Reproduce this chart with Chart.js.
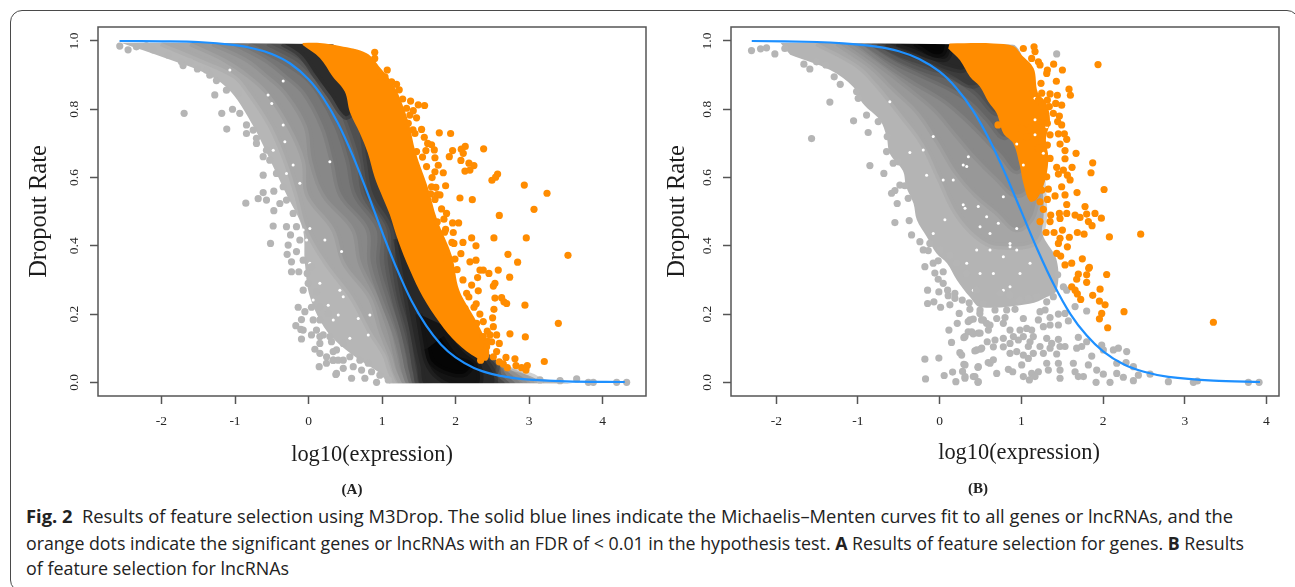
<!DOCTYPE html>
<html>
<head>
<meta charset="utf-8">
<title>Fig. 2</title>
<script src="https://cdn.jsdelivr.net/npm/chart.js@4"></script>
<style>
  html, body { margin: 0; padding: 0; background: #fff; }
  body { width: 1295px; height: 587px; position: relative; overflow: hidden; }
  #frame { position: absolute; left: 10px; top: 10px; width: 1287px; height: 580px; border: 1.5px solid #4a4a4a; border-radius: 12px; }
  canvas { position: absolute; top: 0; filter: blur(0.35px); }
  #chartA { left: 0; }
  #chartB { left: 650px; }
  .panel { position: absolute; font: bold 15px "Liberation Serif", serif; color: #222; transform: translate(-50%, -50%); }
  .line { position: absolute; left: 26px; font: 18px/24px "Open Sans", sans-serif; color: #222; white-space: nowrap; transform-origin: left center; }
</style>
</head>
<body>
<div id="frame"></div>
<canvas id="chartA" width="650" height="480"></canvas>
<canvas id="chartB" width="645" height="480"></canvas>
<div class="panel" style="left:352px;top:489px">(A)</div>
<div class="panel" style="left:978px;top:488px">(B)</div>
<div class="line" data-w="1207" style="top:504px"><b>Fig. 2</b>&nbsp; Results of feature selection using M3Drop. The solid blue lines indicate the Michaelis–Menten curves fit to all genes or lncRNAs, and the</div>
<div class="line" data-w="1218" style="top:531px">orange dots indicate the significant genes or lncRNAs with an FDR of &lt; 0.01 in the hypothesis test. <b>A</b> Results of feature selection for genes. <b>B</b> Results</div>
<div class="line" data-w="263" style="top:556px">of feature selection for lncRNAs</div>
<script>
// Ejes
const xTicks = [-2, -1, 0, 1, 2, 3, 4];
const yTicks = [0, 0.2, 0.4, 0.6, 0.8, 1.0];

// Curvas Michaelis-Menten
const curveA = [[-2.57,1.0],[-2,.999],[-1.5,.997],[-1,.988],[-.75,.978],[-.5,.962],[-.25,.934],[0,.888],[.2,.833],[.4,.759],[.6,.665],[.8,.556],[1,.441],[1.2,.333],[1.4,.239],[1.6,.166],[1.8,.111],[2,.073],[2.25,.042],[2.5,.024],[2.75,.014],[3,.008],[3.5,.003],[4.3,.001]];
const curveB = [[-2.3,1.0],[-1.5,.997],[-1.18,.993],[-.8,.984],[-.5,.97],[-.25,.947],[0,.91],[.2,.863],[.4,.799],[.6,.715],[.8,.613],[1,.5],[1.2,.387],[1.4,.285],[1.6,.2],[1.8,.137],[2,.091],[2.25,.053],[2.5,.031],[2.8,.016],[3.35,.005],[3.92,.001]];

// Zona naranja compacta
const orangeBandA = [[-.08,.988],[.154,.95],[.33,.895],[.494,.851],[.562,.792],[.698,.73],[.806,.672],[.9,.6],[1.01,.541],[1.106,.491],[1.215,.417],[1.378,.329],[1.555,.25],[1.786,.174],[2.018,.115],[2.29,.071],[2.43,.065],[2.45,.1],[2.28,.18],[2.05,.27],[1.95,.37],[1.75,.476],[1.62,.573],[1.46,.671],[1.35,.769],[1.17,.866],[.98,.92],[.79,.964],[.426,.985],[.154,.994],[-.08,.994]];
const orangeBandB = [[.105,.978],[.247,.944],[.371,.895],[.494,.866],[.596,.822],[.698,.788],[.779,.73],[.902,.7],[.983,.632],[1.024,.583],[1.106,.53],[1.2,.54],[1.3,.6],[1.33,.66],[1.3,.71],[1.35,.77],[1.3,.82],[1.2,.85],[1.15,.92],[1,.96],[.9,.985],[.657,.993],[.12,.993]];
const orangeGapsB = [[1.106,.749],[1.167,.725],[.943,.698],[1.024,.637],[1.167,.832],[1.31,.749],[1.167,.769],[1.269,.671]];

// Puntos naranjas sueltos
const orangeDotsA = [[.9,.967],[.9,.949],[1.07,.915],[1.04,.895],[.97,.895],[1.197,.873],[1.233,.857],[1.388,.824],[1.578,.811],[1.492,.813],[1.333,.803],[1.424,.796],[1.469,.775],[1.379,.783],[1.356,.759],[1.537,.741],[1.447,.729],[1.574,.718],[1.778,.731],[1.932,.729],[1.673,.696],[1.71,.681],[1.596,.679],[1.469,.676],[1.719,.658],[1.959,.679],[1.914,.661],[2.077,.683],[2.131,.691],[2.104,.671],[2.381,.684],[2.072,.65],[2.181,.642],[2.249,.635],[2.127,.619],[2.195,.622],[1.764,.636],[1.605,.632],[1.719,.617],[1.832,.614],[2.571,.61],[2.544,.601],[2.494,.592],[2.934,.578],[3.243,.554],[1.864,.576],[1.673,.573],[1.732,.571],[1.66,.552],[1.787,.549],[1.719,.536],[2.059,.54],[2.227,.535],[3.066,.507],[2.594,.489],[1.809,.508],[1.877,.495],[1.841,.478],[1.959,.467],[2.041,.467],[1.75,.47],[1.864,.448],[1.968,.439],[2.218,.423],[2.521,.423],[2.961,.423],[3.528,.372],[2.277,.4],[1.977,.407],[2.072,.377],[2.712,.375],[2.843,.352],[2.277,.358],[2.195,.353],[1.991,.361],[1.877,.363],[2.331,.329],[2.376,.329],[2.453,.319],[2.58,.329],[2.299,.307],[2.735,.308],[2.535,.29],[2.513,.282],[2.218,.285],[2.308,.268],[2.15,.261],[2.535,.247],[2.626,.248],[2.657,.236],[2.694,.231],[2.943,.226],[2.25,.22],[2.127,.217],[2.521,.214],[2.503,.189],[2.376,.178],[2.286,.173],[2.513,.163],[3.397,.173],[2.739,.142],[2.948,.133],[2.558,.139],[2.467,.139],[2.376,.134],[2.594,.114],[2.49,.119],[2.422,.104],[2.558,.09],[2.513,.075],[2.399,.09],[2.685,.073],[2.807,.069],[3.206,.061],[2.648,.054],[2.703,.043],[2.821,.049],[2.898,.043],[2.975,.049],[2.957,.036],[2.594,.06],[2.34,.065],[1.62,.7],[1.55,.66],[1.68,.6],[1.75,.55],[1.85,.44],[1.95,.41],[2.02,.33],[2.1,.3],[2.18,.25],[2.28,.23],[2.33,.2],[2.43,.15],[2.44,.12],[2.1,.41],[1.13,.88],[1.28,.83],[1.42,.74]];
const orangeDotsB = [[1.155,.983],[1.167,.969],[1.024,.978],[1.126,.949],[1.208,.939],[1.228,.93],[1.318,.915],[1.395,.932],[1.502,.915],[1.938,.931],[1.31,.905],[1.428,.882],[1.24,.876],[1.583,.859],[1.6,.841],[1.44,.841],[1.351,.845],[1.249,.847],[1.138,.847],[1.208,.827],[1.318,.827],[1.42,.817],[1.493,.812],[1.249,.81],[1.342,.808],[1.391,.788],[1.465,.78],[1.269,.778],[1.318,.759],[1.228,.744],[1.493,.754],[1.444,.764],[1.106,.744],[1.004,.744],[.714,.754],[1.065,.72],[1.351,.725],[1.453,.728],[1.526,.728],[1.555,.712],[1.249,.72],[1.473,.698],[1.318,.695],[1.208,.686],[1.534,.679],[1.669,.671],[1.351,.656],[1.534,.655],[1.873,.643],[1.432,.63],[1.62,.63],[1.852,.614],[1.514,.622],[1.563,.607],[1.453,.61],[1.31,.602],[1.493,.573],[1.596,.593],[2.012,.565],[1.249,.563],[1.33,.566],[1.681,.556],[1.412,.546],[1.534,.549],[1.318,.536],[1.228,.529],[1.555,.521],[1.779,.515],[1.269,.507],[1.799,.493],[1.901,.495],[1.979,.481],[1.465,.495],[1.555,.495],[1.657,.49],[1.718,.483],[1.359,.49],[1.473,.48],[1.82,.471],[1.865,.459],[1.228,.471],[1.351,.471],[1.302,.439],[1.4,.439],[1.502,.446],[1.685,.439],[1.767,.434],[2.077,.426],[2.46,.434],[1.473,.422],[1.587,.425],[1.453,.407],[1.563,.397],[1.432,.378],[1.481,.37],[1.746,.362],[1.616,.349],[1.534,.344],[1.832,.337],[1.697,.317],[1.677,.302],[1.799,.315],[1.824,.334],[1.799,.293],[2.044,.316],[1.616,.28],[1.657,.27],[1.685,.259],[1.726,.243],[1.873,.255],[1.963,.273],[1.955,.238],[2.024,.227],[2.256,.207],[1.983,.202],[1.955,.186],[2.056,.16],[3.35,.176]];

// Puntos grises sueltos
const grayDotsA = [[.608,.967],[-2.567,.985],[-2.454,.974],[-2.341,.983],[-2.205,.986],[-2.114,.974],[-1.91,.959],[-1.728,.939],[-1.706,.928],[-1.615,.939],[-1.511,.918],[-1.388,.915],[-1.343,.9],[-1.252,.884],[-1.116,.856],[-1.275,.842],[-.957,.847],[-1.692,.788],[-1.18,.788],[-1.034,.8],[-.935,.788],[-1.112,.742],[-.844,.729],[-.844,.754],[-.708,.715],[-.572,.68],[-.617,.607],[-.853,.525],[-.685,.538],[-.617,.556],[-.572,.534],[-.472,.56],[-.39,.524],[-.472,.503],[-.481,.458],[-.517,.407],[-.3,.456],[-.277,.402],[-.245,.432],[-.291,.375],[-.232,.353],[-.232,.324],[-.132,.324],[-.018,.319],[-.073,.27],[-.141,.22],[-.05,.207],[.04,.22],[-.096,.184],[-.173,.166],[-.105,.155],[-.096,.127],[.063,.183],[.086,.097],[.145,.046],[.244,.056],[.371,.023],[.335,.065],[.154,.134],[.38,.026],[.472,.041],[.585,.012],[.766,.012],[.925,0],[1.084,.007],[3.646,.01],[3.805,0],[3.873,0],[4.19,0],[4.326,0],[3.42,.005],[3.147,.007],[-.073,.153],[.04,.139],[.154,.114],[.29,.134],[.38,.095],[.472,.114],[.336,.065],[.472,.065],[.608,.046],[.721,.036],[.857,.031],[.97,.021],[.562,.075],[.245,.075],[.698,.065],[.812,.056],[.154,.085],[-.527,.651],[-.436,.612],[-.345,.573],[-.3,.534],[-.209,.495],[-.164,.456],[-.118,.417],[-.708,.7],[-.617,.661],[-.753,.739],[-.164,.383],[-.073,.358],[.04,.339],[-.005,.29],[.108,.265],[.154,.221],[.267,.202],[.154,.183],[.108,.153],[.199,.139],[.312,.119],[.335,.09],[.403,.065]];
const grayDotsB = [[1.432,.962],[-2.303,.972],[-2.192,.977],[-2.119,.98],[-2.017,.962],[-1.895,.978],[-1.662,.932],[-1.589,.918],[-1.507,.939],[-1.393,.93],[-1.291,.895],[-1.217,.873],[-1.344,.821],[-.997,.832],[-1.017,.852],[-1.054,.766],[-.875,.732],[-.895,.783],[-1.568,.714],[-.854,.635],[-.683,.612],[-.642,.72],[-.589,.554],[-.548,.562],[-.52,.524],[-.548,.468],[-.385,.539],[-.373,.474],[-.344,.432],[-.242,.412],[-.201,.388],[-.181,.339],[-.487,.578],[-.426,.576],[-.569,.642],[-.508,.646],[-.65,.676],[-.752,.764],[-.14,.386],[-.079,.349],[-.018,.356],[-.059,.32],[.043,.324],[-.018,.302],[.043,.29],[-.148,.27],[-.01,.265],[.097,.27],[.104,.254],[.186,.261],[.186,.246],[.276,.241],[-.148,.231],[-.071,.236],[.011,.22],[.125,.227],[.361,.233],[.37,.214],[.239,.202],[.215,.173],[.349,.178],[.41,.185],[.513,.183],[.113,.153],[.349,.148],[.41,.142],[.472,.144],[.296,.131],[.145,.117],[.582,.119],[.247,.087],[.431,.092],[.5,.097],[-.181,.068],[-.01,.071],[.296,.053],[.468,.044],[.594,.058],[.158,.03],[.055,.02],[.28,.032],[.309,.012],[.198,.002],[-.173,.01],[.431,.017],[.468,0],[.412,.017],[.473,.002],[.31,.017],[.31,.051],[.473,.046],[.698,.026],[.841,.038],[.894,.031],[1.024,.017],[1.098,.007],[1.126,.026],[1.208,.031],[1.167,.017],[1.004,.051],[.616,.056],[.657,.066],[1.085,.07],[1.31,.056],[1.33,.036],[1.453,.056],[1.473,.036],[1.473,.012],[1.657,.031],[1.697,.017],[1.759,.017],[1.636,.056],[1.861,.077],[1.82,.051],[1.922,.036],[2.003,.024],[1.914,0],[2.085,0],[2.167,.026],[2.248,.015],[2.371,.005],[2.432,.021],[2.575,.024],[2.799,.002],[3.105,0],[3.154,.004],[3.778,0],[3.909,0],[2.187,.1],[2.289,.09],[2.167,.056],[2.281,.058],[2.371,.046],[2.126,.095],[1.983,.109],[2.003,.095],[1.697,.132],[1.799,.119],[1.677,.1],[1.738,.105],[1.473,.105],[1.534,.105],[1.351,.1],[1.371,.114],[1.453,.126],[1.31,.129],[1.228,.105],[1.269,.085],[1.432,.083],[1.085,.105],[1.146,.085],[1.024,.08],[.943,.09],[.861,.085],[.779,.104],[.861,.114],[.963,.124],[1.024,.134],[1.106,.119],[1.146,.134],[.983,.153],[1.065,.158],[1.126,.153],[.902,.134],[.779,.129],[.677,.124],[.657,.104],[.453,.095],[.514,.1],[.269,.08],[.31,.134],[.392,.148],[.494,.144],[.596,.153],[.371,.183],[.535,.183],[.616,.168],[.698,.187],[.779,.173],[.861,.153],[.8,.19],[1.024,.187],[.922,.214],[.82,.212],[.677,.212],[1.228,.207],[1.29,.212],[1.208,.183],[1.351,.19],[1.453,.2],[1.534,.202],[1.269,.163],[1.351,.168],[1.453,.168],[1.575,.18],[1.657,.222],[1.799,.209],[1.514,.28],[1.555,.27],[1.444,.315],[1.391,.251],[1.31,.236],[1.187,.251],[1.085,.246],[.975,.241],[.861,.256],[.739,.261],[.494,.212],[-.12,.407],[.003,.388],[.125,.373],[.207,.349],[.329,.319],[.451,.27],[.533,.231],[.492,.202],[.574,.173]];

// Huecos blancos dentro de la nube
const gapsA = [[.018,.451],[-.073,.446],[-.027,.417],[.449,.383],[.222,.417],[-.073,.329],[.018,.349],[.154,.29],[.426,.27],[.404,.197],[.676,.187],[.562,.129],[.834,.197],[.653,.065],[.812,.139],[-.073,.275],[.063,.241],[.268,.226],[.472,.251],[.336,.183],[.154,.153],[-.55,.842],[-.345,.754],[-.322,.705],[.29,.646],[-.48,.68],[-.3,.612],[-.118,.583],[-.5,.817],[-1.07,.915],[-.345,.883],[-.21,.637]];
const gapsB = [[.861,.407],[.779,.368],[.943,.388],[.657,.319],[.494,.319],[.861,.28],[.331,.349],[.983,.319],[.412,.27],[.616,.388],[.453,.388],[1.106,.349],[.779,.27],[.31,.51],[.575,.485],[.718,.466],[.861,.397],[.331,.632],[.494,.456],[.351,.661],[.779,.544],[.616,.436],[.943,.451],[.288,.52],[.064,.476],[-.079,.436],[.288,.637],[.043,.593],[.166,.593],[-.365,.673],[-.201,.681],[-.079,.72],[-.61,.822],[.472,.515],[-.16,.607]];

// Bandas de densidad, panel A: borde izquierdo por filas de dropout
const bandRowsA = [.995,.95,.9,.85,.75,.65,.55,.45,.35,.25,.15,.08,.03,-.008];
const bandEdgesA = [
  [-2.55,-1.95,-1.35,-1.05,-.75,-.52,-.3,-.08,-.05,.02,.25,.6,.95,1.15],
  [-2,-1.5,-1,-.8,-.5,-.3,-.15,-.02,.25,.6,.85,1.05,1.13,1.25],
  [-1.6,-1.15,-.8,-.55,-.25,-.05,0,.35,.5,.85,1,1.13,1.2,1.33],
  [-1.3,-.85,-.55,-.3,-.02,.05,.22,.62,.72,.95,1.12,1.2,1.26,1.38],
  [-1,-.6,-.3,-.05,.2,.335,.45,.82,.85,1,1.18,1.27,1.32,1.42],
  [-.8,-.4,-.05,.15,.4,.55,.65,.97,.97,1.1,1.25,1.32,1.37,1.46],
  [-.55,-.15,.1,.35,.55,.7,.77,1.06,1.08,1.17,1.3,1.38,1.42,1.5],
  [-.25,.05,.3,.5,.72,.79,.88,1.15,1.18,1.25,1.38,1.43,1.47,1.53]
];
const bandEndsA = [3.6,3.15,3.02,2.92,2.82,2.75,2.68,2.62];
const bandTailA = [[2.35,.09],[1.9,.25],[1.45,.46],[1,.75],[.5,.95],[.2,.995]];
const bandColorsA = ['#b6b6b6','#a8a8a8','#989898','#888888','#767676','#646464','#505050','#3c3c3c'];
const darkTopA = [[-.35,.995],[-.1,.96],[.1,.9],[.3,.84],[.5,.78],[.6,.8],[.5,.88],[.2,.95],[0,.995]];
const darkLowA = [[1.2,.42],[1.3,.3],[1.38,.2],[1.45,.12],[1.52,.05],[1.6,-.008],[2.5,-.008],[2.5,.03],[2.3,.09],[1.9,.2],[1.5,.35],[1.3,.45]];
const darkerLowA = [[1.5,.2],[1.56,.12],[1.62,.06],[1.75,.02],[2,-.008],[2.3,-.008],[2.3,.05],[2.1,.09],[1.8,.17]];
const blackLowA = [[1.62,.1],[1.68,.06],[1.85,.035],[2.1,.025],[2.2,.05],[2,.07],[1.8,.13]];

// Bandas de densidad, panel B: poligonos de fuera hacia dentro
const bandB0 = [[-1.95,.995],[.85,.995],[1.1,.85],[1.3,.6],[1.065,.534],[1.228,.475],[1.269,.427],[1.432,.358],[1.432,.27],[1.31,.25],[1.1,.23],[.5,.22],[.37,.25],[.21,.3],[.09,.349],[-.04,.378],[-.16,.427],[-.28,.476],[-.32,.524],[-.41,.573],[-.45,.62],[-.61,.67],[-.65,.72],[-.73,.768],[-.94,.817],[-1.06,.866],[-1.34,.915],[-1.83,.96]];
const bandB1 = [[-1.5,.995],[-1,.93],[-.75,.87],[-.45,.78],[-.2,.7],[0,.6],[.2,.5],[.45,.43],[.7,.4],[1.2,.42],[1.25,.6],[1.1,.85],[.8,.995]];
const bandB2 = [[-1.25,.995],[-.85,.93],[-.55,.86],[-.25,.79],[0,.7],[.2,.62],[.45,.55],[.7,.5],[.95,.45],[1.15,.5],[1.25,.7],[1.1,.85],[.8,.995]];
const bandB3 = [[-1.1,.995],[-.72,.93],[-.4,.87],[-.05,.8],[.2,.73],[.45,.66],[.7,.6],[.95,.55],[1.15,.6],[1.1,.85],[.8,.995]];
const bandB4 = [[-.98,.995],[-.62,.93],[-.3,.88],[.05,.83],[.3,.78],[.55,.72],[.75,.67],[.95,.62],[1.1,.7],[1.05,.85],[.8,.995]];
const bandB5 = [[-.9,.995],[-.55,.94],[-.2,.9],[.15,.86],[.4,.82],[.6,.77],[.8,.72],[1,.8],[.9,.95],[.6,.995]];
const bandB6 = [[-.82,.995],[-.5,.95],[-.15,.915],[.2,.89],[.45,.85],[.7,.79],[.8,.85],[.6,.995]];
const bandB7 = [[-.75,.995],[-.45,.96],[-.1,.93],[.15,.9],[.4,.87],[.55,.9],[.4,.995]];
const bandB8 = [[-.65,.995],[-.4,.97],[-.1,.945],[.1,.925],[.3,.92],[.3,.995]];
const bandB9 = [[-.52,.995],[-.3,.975],[-.1,.955],[.08,.95],[.15,.995]];
const bandB10 = [[-.3,.995],[-.2,.98],[-.08,.963],[.03,.965],[.07,.995]];
const bandsB = [bandB0,bandB1,bandB2,bandB3,bandB4,bandB5,bandB6,bandB7,bandB8,bandB9,bandB10];
const bandColorsB = ['#b4b4b4','#a6a6a6','#989898','#8a8a8a','#787878','#646464','#505050','#3c3c3c','#282828','#141414','#050505'];

// La nube termina plana arriba y abajo
const cutTop = [[-3,.996],[5,.996],[5,1.05],[-3,1.05]];
const cutBottom = [[-3,-.009],[5,-.009],[5,-.05],[-3,-.05]];

const GRAY = '#b5b5b5';
const ORANGE = '#ff8c00';
const BLUE = '#1e90ff';
const AXIS = '#555555';
const TEXT = '#262626';
const DOT = 3.6;

function toPoints(lista) {
    return lista.map(function(p) { return { x: p[0], y: p[1] }; });
}

function puntos(label, lista, color, radio) {
    return { label: label, data: toPoints(lista), backgroundColor: color, pointRadius: radio, pointBorderWidth: 0, pointHoverRadius: radio };
}

function area(label, lista, color, halo) {
    return {
        label: label, data: toPoints(lista), showLine: true, fill: 'shape', backgroundColor: color,
        borderColor: color + '80', borderWidth: halo || 0, tension: 0.35, pointRadius: 0
    };
}

function curva(lista) {
    return { label: 'Michaelis-Menten', data: toPoints(lista), showLine: true, borderColor: BLUE, borderWidth: 2.2, pointRadius: 0, tension: 0.3, fill: false };
}

// Panel A: cada banda es su borde izquierdo, la cola inferior y el borde comun bajo el naranja
function bandaA(i) {
    const borde = bandRowsA.map(function(y, k) { return [bandEdgesA[i][k], y]; });
    const fin = bandEndsA[i];
    const cola = i === 0
        ? [[fin,-.008],[3.3,.006],[2.97,.014],[2.69,.038],[2.42,.07]]
        : [[fin,-.008],[fin - .1,.015],[2.55,.05]];
    return borde.concat(cola, bandTailA);
}

// Recuadro del grafico
const boxPlugin = {
    id: 'box',
    afterDraw(chart) {
        const a = chart.chartArea;
        const ctx = chart.ctx;
        ctx.save();
        ctx.strokeStyle = AXIS;
        ctx.lineWidth = 1.5;
        ctx.strokeRect(a.left, a.top, a.width, a.height);
        ctx.restore();
    }
};

function crearPanel(id, datasets, cfg) {
    new Chart(document.getElementById(id), {
        type: 'scatter',
        data: { datasets: datasets },
        plugins: [boxPlugin],
        options: {
            responsive: false,
            animation: false,
            events: [],
            layout: { padding: { left: 0, top: 27, right: cfg.rightPad, bottom: 0 } },
            plugins: { legend: { display: false }, tooltip: { enabled: false }, title: { display: false } },
            scales: {
                x: {
                    type: 'linear',
                    min: cfg.xMin,
                    max: cfg.xMax,
                    afterBuildTicks: function(scale) { scale.ticks = xTicks.map(function(v) { return { value: v }; }); },
                    afterFit: function(scale) { scale.height = 84; },
                    grid: { drawOnChartArea: false, tickLength: 8, tickColor: AXIS, tickWidth: 1.5 },
                    border: { display: false },
                    ticks: { autoSkip: false, maxRotation: 0, padding: 9.5, color: TEXT, font: { family: 'Liberation Serif', size: 13.5 }, callback: function(v) { return String(v); } },
                    title: { display: true, text: cfg.xTitle, color: '#1c1c1c', font: { family: 'Liberation Serif', size: 22.4 }, padding: { top: 0, bottom: cfg.xTitlePad } }
                },
                y: {
                    type: 'linear',
                    min: -0.04,
                    max: 1.041,
                    afterBuildTicks: function(scale) { scale.ticks = yTicks.map(function(v) { return { value: v }; }); },
                    afterFit: function(scale) { scale.width = cfg.yWidth; },
                    grid: { drawOnChartArea: false, tickLength: 8, tickColor: AXIS, tickWidth: 1.5 },
                    border: { display: false },
                    ticks: { autoSkip: false, minRotation: 90, maxRotation: 90, crossAlign: 'center', padding: 7.5, color: TEXT, font: { family: 'Liberation Serif', size: 13.5 }, callback: function(v) { return v.toFixed(1); } },
                    title: { display: true, text: 'Dropout Rate', color: '#1c1c1c', font: { family: 'Liberation Serif', size: 24.5 }, padding: { top: cfg.yTitlePad, bottom: 0 } }
                }
            }
        }
    });
}

// El primer dataset queda encima de todos
const datasetsA = [
    curva(curveA),
    puntos('significant', orangeDotsA, ORANGE, DOT),
    area('significant core', orangeBandA, ORANGE),
    puntos('genes', grayDotsA, GRAY, DOT),
    puntos('gaps', gapsA, '#ffffff', 1.5),
    area('cut', cutTop, '#ffffff'),
    area('cut', cutBottom, '#ffffff'),
    area('density', blackLowA, '#050505', 7),
    area('density', darkerLowA, '#141414', 7),
    area('density', darkLowA, '#282828', 7),
    area('density', darkTopA, '#2c2c2c', 7)
];
for (let i = bandEdgesA.length - 1; i >= 0; i--) {
    datasetsA.push(area('density', bandaA(i), bandColorsA[i], i === 0 ? 0 : 7));
}

const datasetsB = [
    curva(curveB),
    puntos('significant', orangeDotsB, ORANGE, DOT),
    puntos('gaps', orangeGapsB, '#ffffff', 1.5),
    area('significant core', orangeBandB, ORANGE),
    puntos('lncRNAs', grayDotsB, GRAY, DOT),
    puntos('gaps', gapsB, '#ffffff', 1.5),
    area('cut', cutTop, '#ffffff'),
    area('cut', cutBottom, '#ffffff')
];
for (let i = bandsB.length - 1; i >= 0; i--) {
    datasetsB.push(area('density', bandsB[i], bandColorsB[i], i === 0 ? 0 : 7));
}

crearPanel('chartA', datasetsA, { xMin: -2.863, xMax: 4.589, rightPad: 4, yWidth: 98, yTitlePad: 25, xTitlePad: 11, xTitle: 'log10(expression)' });
crearPanel('chartB', datasetsB, { xMin: -2.554, xMax: 4.153, rightPad: 16, yWidth: 81, yTitlePad: 12.5, xTitlePad: 13, xTitle: '\u2003 log10(expression)' });

// Ajustar cada linea del pie al ancho de la figura
document.querySelectorAll('.line').forEach(function(linea) {
    const ancho = linea.getBoundingClientRect().width;
    linea.style.transform = 'scaleX(' + (parseFloat(linea.dataset.w) / ancho) + ')';
});
</script>
</body>
</html>
